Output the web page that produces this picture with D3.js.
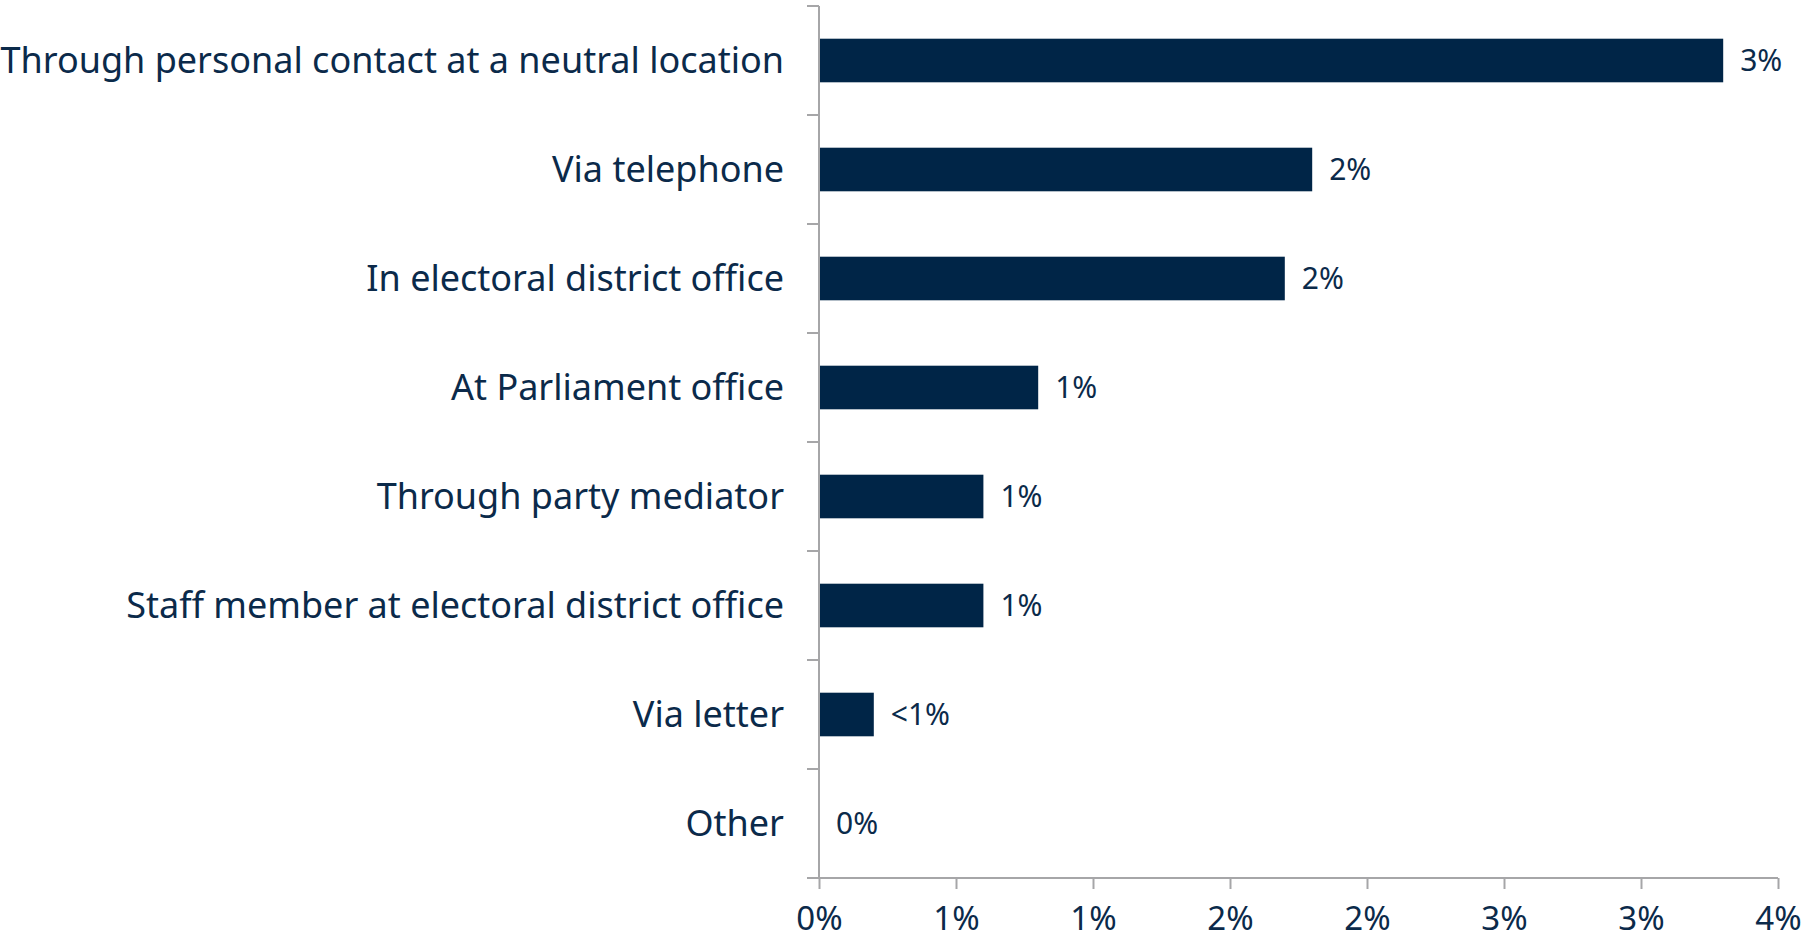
<!DOCTYPE html>
<html>
<head>
<meta charset="utf-8">
<script src="https://cdn.jsdelivr.net/npm/d3@7"></script>
<style>
  body { margin: 0; background: #fff; }
  text { font-family: "Noto Sans", sans-serif; fill: #0b2a4a; }
</style>
</head>
<body>
<script>
var categories = ["Through personal contact at a neutral location", "Via telephone",
  "In electoral district office", "At Parliament office", "Through party mediator",
  "Staff member at electoral district office", "Via letter", "Other"];
var values = [3.3, 1.8, 1.7, 0.8, 0.6, 0.6, 0.2, 0];
var valueLabels = ["3%", "2%", "2%", "1%", "1%", "1%", "<1%", "0%"];
var xTicks = [0, 0.5, 1, 1.5, 2, 2.5, 3, 3.5];
var xTickLabels = ["0%", "1%", "1%", "2%", "2%", "3%", "3%", "4%"];

var width = 1801, height = 944;
var margin = {top: 6, right: 23, bottom: 66, left: 819};
var barColor = "#002547", axisColor = "#a6a6a8";

var svg = d3.select("body").append("svg")
  .attr("width", width)
  .attr("height", height);

var x = d3.scaleLinear()
  .domain([0, 3.5])
  .range([margin.left, width - margin.right]);

var y = d3.scaleBand()
  .domain(categories)
  .range([margin.top, height - margin.bottom])
  .paddingInner(0.6)
  .paddingOuter(0.3);

var step = y.step();
var y0 = margin.top, y1 = height - margin.bottom;

// bars
svg.append("g").selectAll("rect")
  .data(values)
  .enter()
  .append("rect")
  .attr("x", x(0))
  .attr("y", function(d, i) { return y(categories[i]); })
  .attr("width", function(d) { return x(d) - x(0); })
  .attr("height", y.bandwidth())
  .attr("fill", barColor);

// value labels
svg.append("g").selectAll("text")
  .data(values)
  .enter()
  .append("text")
  .attr("x", function(d) { return x(d) + 17; })
  .attr("y", function(d, i) { return y(categories[i]) + y.bandwidth() / 2; })
  .attr("dy", "0.35em")
  .style("font-size", "30px")
  .text(function(d, i) { return valueLabels[i]; });

// vertical axis line + ticks at band edges
var left = svg.append("g");
left.append("line")
  .attr("x1", x(0)).attr("x2", x(0))
  .attr("y1", y0).attr("y2", y1)
  .style("stroke", axisColor).style("stroke-width", 2);
d3.range(categories.length + 1).map(function(i) {
  left.append("line")
    .attr("x1", x(0) - 12).attr("x2", x(0))
    .attr("y1", y0 + i * step).attr("y2", y0 + i * step)
    .style("stroke", axisColor).style("stroke-width", 2);
});
left.selectAll("text")
  .data(categories)
  .enter()
  .append("text")
  .attr("x", x(0) - 35)
  .attr("y", function(d) { return y(d) + y.bandwidth() / 2; })
  .attr("dy", "0.35em")
  .attr("text-anchor", "end")
  .style("font-size", "36px")
  .text(function(d) { return d; });

// bottom axis
var xAxis = d3.axisBottom(x)
  .tickValues(xTicks)
  .tickSize(11)
  .tickPadding(18)
  .tickFormat(function(d, i) { return xTickLabels[i]; });

var bottom = svg.append("g")
  .attr("transform", "translate(0," + y1 + ")")
  .call(xAxis);
bottom.select(".domain").remove();
bottom.append("line")
  .attr("x1", x(0) - 12).attr("x2", x(3.5))
  .attr("y1", 0).attr("y2", 0)
  .style("stroke", axisColor).style("stroke-width", 2);
bottom.selectAll(".tick line").style("stroke", axisColor).style("stroke-width", 2);
bottom.selectAll(".tick text")
  .style("font-size", "33px")
  .style("font-family", "'Noto Sans', sans-serif")
  .style("fill", "#0b2a4a");
</script>
</body>
</html>
